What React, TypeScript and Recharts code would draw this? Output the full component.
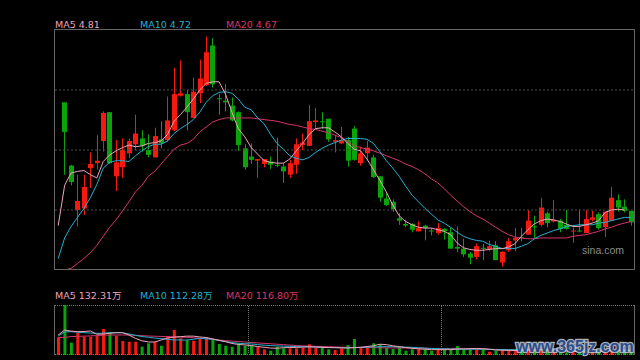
import { ComposedChart, Bar, Line, XAxis, YAxis, ReferenceLine, Cell } from "recharts";

// slot 0 is the day before the first drawn candle (only its volume and MA start are visible)
const open = [null,
  6.12, 5.35, 4.81, 4.83, 5.32, 5.38, 5.65, 6.00, 5.22, 5.33,
  5.50, 5.61, 5.68, 5.54, 5.45, 5.67, 5.66, 5.78, 6.20, 6.22,
  5.93, 6.23, 6.33, 6.81, 6.17, 6.14, 6.08, 6.00, 5.56, 5.46,
  5.41, 5.37, 5.40, 5.36, 5.34, 5.24, 5.36, 5.60, 5.59, 5.88,
  5.89, 5.92, 5.64, 5.62, 5.66, 5.80, 5.38, 5.50, 5.45, 5.22,
  4.95, 4.91, 4.71, 4.64, 4.64, 4.55, 4.62, 4.56, 4.53, 4.58,
  4.54, 4.36, 4.34, 4.28, 4.24, 4.35, 4.33, 4.38, 4.17, 4.32,
  4.44, 4.48, 4.51, 4.61, 4.63, 4.77, 4.67, 4.68, 4.63, 4.55,
  4.56, 4.53, 4.69, 4.76, 4.60, 4.68, 4.93, 4.85, 4.80];
const close = [null,
  5.76, 5.15, 4.92, 5.09, 5.37, 5.41, 5.99, 5.38, 5.39, 5.54,
  5.65, 5.74, 5.59, 5.48, 5.71, 5.62, 5.90, 6.22, 6.23, 6.00,
  6.25, 6.41, 6.73, 6.34, 6.16, 6.12, 5.90, 5.60, 5.33, 5.42,
  5.43, 5.43, 5.36, 5.35, 5.28, 5.38, 5.61, 5.63, 5.89, 5.90,
  5.88, 5.67, 5.66, 5.66, 5.41, 5.42, 5.50, 5.57, 5.21, 4.96,
  4.87, 4.82, 4.68, 4.62, 4.57, 4.59, 4.59, 4.55, 4.59, 4.55,
  4.34, 4.34, 4.27, 4.23, 4.37, 4.34, 4.37, 4.20, 4.30, 4.43,
  4.47, 4.47, 4.68, 4.60, 4.84, 4.65, 4.69, 4.58, 4.58, 4.56,
  4.55, 4.70, 4.72, 4.59, 4.79, 4.96, 4.84, 4.80, 4.66];
const high = [null,
  6.12, 5.36, 5.24, 5.24, 5.51, 5.72, 6.01, 6.00, 5.66, 5.68,
  5.68, 5.97, 5.78, 5.73, 5.81, 5.89, 6.19, 6.54, 6.63, 6.27,
  6.42, 6.64, 6.92, 6.90, 6.22, 6.34, 6.18, 6.01, 5.61, 5.62,
  5.43, 5.43, 5.46, 5.69, 5.38, 5.42, 5.68, 5.74, 6.09, 6.05,
  6.00, 5.92, 5.72, 5.82, 5.70, 5.83, 5.58, 5.65, 5.48, 5.22,
  5.03, 4.94, 4.77, 4.69, 4.65, 4.67, 4.63, 4.59, 4.65, 4.59,
  4.60, 4.61, 4.46, 4.30, 4.40, 4.40, 4.44, 4.43, 4.31, 4.47,
  4.59, 4.59, 4.81, 4.74, 4.96, 4.79, 4.93, 4.70, 4.81, 4.60,
  4.81, 4.81, 4.80, 4.78, 4.79, 5.09, 5.00, 4.94, 4.80];
const low = [null,
  5.24, 5.11, 4.61, 4.75, 5.08, 5.30, 5.52, 5.37, 5.04, 5.20,
  5.44, 5.54, 5.52, 5.45, 5.45, 5.56, 5.64, 5.77, 6.19, 5.78,
  5.93, 6.11, 6.32, 6.30, 5.97, 6.01, 5.89, 5.53, 5.30, 5.37,
  5.20, 5.33, 5.31, 5.33, 5.14, 5.20, 5.25, 5.54, 5.59, 5.80,
  5.80, 5.64, 5.51, 5.61, 5.34, 5.41, 5.35, 5.41, 5.20, 4.91,
  4.86, 4.79, 4.63, 4.60, 4.54, 4.55, 4.44, 4.50, 4.51, 4.45,
  4.34, 4.30, 4.24, 4.15, 4.21, 4.20, 4.31, 4.20, 4.12, 4.30,
  4.31, 4.43, 4.51, 4.47, 4.61, 4.60, 4.66, 4.54, 4.57, 4.41,
  4.54, 4.53, 4.67, 4.57, 4.48, 4.68, 4.79, 4.78, 4.62];

const ma5 = [
  4.62, 5.11, 5.26, 5.28, 5.29, 5.24, 5.20, 5.40, 5.48, 5.53,
  5.57, 5.60, 5.58, 5.59, 5.62, 5.63, 5.65, 5.73, 5.89, 5.97,
  6.06, 6.16, 6.27, 6.35, 6.37, 6.37, 6.22, 6.00, 5.80, 5.70,
  5.57, 5.49, 5.41, 5.39, 5.38, 5.38, 5.43, 5.53, 5.62, 5.73,
  5.80, 5.81, 5.81, 5.76, 5.70, 5.62, 5.55, 5.53, 5.43, 5.30,
  5.17, 5.03, 4.87, 4.74, 4.67, 4.63, 4.60, 4.59, 4.59, 4.57,
  4.55, 4.51, 4.41, 4.35, 4.33, 4.32, 4.32, 4.33, 4.34, 4.34,
  4.36, 4.40, 4.49, 4.57, 4.64, 4.68, 4.70, 4.69, 4.67, 4.64,
  4.61, 4.61, 4.63, 4.65, 4.68, 4.78, 4.81, 4.82, 4.81];
const ma10 = [
  4.22, 4.47, 4.61, 4.72, 4.83, 4.96, 5.12, 5.32, 5.39, 5.41,
  5.41, 5.40, 5.47, 5.53, 5.58, 5.61, 5.61, 5.65, 5.74, 5.80,
  5.85, 5.91, 6.00, 6.12, 6.20, 6.24, 6.25, 6.23, 6.16, 6.06,
  6.03, 5.93, 5.86, 5.73, 5.62, 5.55, 5.47, 5.44, 5.42, 5.45,
  5.51, 5.56, 5.60, 5.63, 5.66, 5.68, 5.68, 5.68, 5.67, 5.62,
  5.52, 5.41, 5.32, 5.22, 5.10, 4.99, 4.91, 4.83, 4.76, 4.69,
  4.65, 4.60, 4.54, 4.49, 4.46, 4.44, 4.43, 4.39, 4.37, 4.34,
  4.34, 4.34, 4.37, 4.40, 4.46, 4.50, 4.53, 4.56, 4.58, 4.61,
  4.62, 4.63, 4.63, 4.63, 4.65, 4.66, 4.68, 4.70, 4.72, 4.72];
const ma20 = [
  4.08, 4.08, 4.10, 4.16, 4.22, 4.29, 4.38, 4.49, 4.60, 4.69,
  4.80, 4.91, 5.03, 5.11, 5.22, 5.28, 5.37, 5.46, 5.55, 5.60,
  5.62, 5.67, 5.76, 5.82, 5.88, 5.91, 5.93, 5.93, 5.93, 5.93,
  5.93, 5.92, 5.91, 5.90, 5.89, 5.87, 5.85, 5.84, 5.82, 5.80,
  5.79, 5.77, 5.75, 5.72, 5.69, 5.64, 5.59, 5.57, 5.55, 5.53,
  5.50, 5.47, 5.44, 5.41, 5.37, 5.34, 5.30, 5.25, 5.19, 5.14,
  5.07, 4.99, 4.92, 4.85, 4.79, 4.74, 4.70, 4.65, 4.60, 4.55,
  4.51, 4.48, 4.47, 4.46, 4.46, 4.47, 4.47, 4.47, 4.47, 4.47,
  4.49, 4.50, 4.51, 4.53, 4.55, 4.58, 4.60, 4.63, 4.65, 4.67];

// volume in 万
const vol = [
  460, 1300, 320, 580, 476, 476, 494, 676, 590, 502,
  364, 346, 346, 216, 304, 346, 242, 494, 650, 434,
  390, 372, 434, 460, 408, 286, 242, 216, 304, 242,
  260, 216, 148, 112, 216, 174, 174, 174, 190, 278,
  190, 190, 148, 130, 169, 260, 416, 190, 190, 304,
  278, 190, 156, 216, 112, 148, 156, 148, 112, 148,
  148, 138, 234, 156, 156, 156, 156, 86, 112, 130,
  130, 130, 110, 190, 130, 150, 110, 100, 90, 73,
  90, 85, 110, 80, 96, 140, 160, 130, 110, 122];
const vma5 = [
  520, 650, 620, 607, 610, 625, 540, 545, 565, 580,
  580, 520, 433, 370, 340, 338, 390, 440, 465, 477,
  490, 490, 470, 455, 420, 380, 347, 300, 275, 262,
  245, 220, 200, 180, 175, 190, 195, 199, 205, 215,
  210, 200, 192, 190, 185, 182, 190, 200, 220, 240,
  280, 270, 240, 215, 195, 175, 160, 150, 140, 140,
  140, 140, 155, 160, 165, 170, 165, 150, 130, 125,
  120, 118, 120, 135, 140, 145, 140, 130, 115, 100,
  93, 90, 93, 90, 92, 103, 115, 120, 128, 132];
const vma10 = [
  494, 600, 607, 595, 580, 570, 563, 570, 580, 580,
  580, 546, 510, 480, 462, 440, 425, 410, 392, 390,
  390, 410, 433, 420, 410, 380, 350, 325, 305, 295,
  288, 270, 255, 245, 236, 230, 225, 220, 215, 210,
  205, 199, 196, 193, 191, 190, 195, 200, 205, 210,
  215, 218, 215, 210, 205, 200, 190, 180, 170, 165,
  160, 155, 152, 150, 150, 150, 150, 148, 145, 142,
  140, 140, 138, 135, 130, 128, 125, 125, 122, 120,
  120, 118, 116, 114, 112, 110, 110, 111, 112, 112];
const vma20 = [
  450, 460, 478, 485, 490, 497, 505, 512, 520, 520,
  520, 520, 512, 503, 494, 488, 482, 477, 471, 465,
  459, 448, 437, 425, 408, 390, 373, 362, 350, 338,
  326, 315, 303, 292, 280, 269, 258, 246, 238, 232,
  226, 220, 217, 210, 203, 199, 196, 194, 192, 190,
  188, 186, 184, 182, 180, 178, 176, 174, 172, 170,
  168, 165, 162, 160, 157, 154, 150, 146, 142, 138,
  135, 132, 130, 128, 126, 125, 124, 123, 122, 121,
  120, 120, 119, 119, 118, 118, 117, 117, 117, 117];

const priceDomain = [4.08, 7.0];
const priceGrid = [4.81, 5.54, 6.27];
const volDomain = [0, 1300];

const RED = "#f5190f";
const GREEN = "#0aa30a";
const C5 = "#eea5ba";
const C10 = "#26afcc";
const C20 = "#d8356d";
const FRAME = "#646464";
const DOTS = "#7a7a7a";

const data = vol.map((v, i) => ({
  idx: i,
  open: open[i], close: close[i], high: high[i], low: low[i],
  ma5: ma5[i], ma10: ma10[i], ma20: ma20[i],
  vol: v, vma5: vma5[i], vma10: vma10[i], vma20: vma20[i],
}));

const isUp = (d: any) => d.close == null || d.close >= d.open;

function Candle(props: any) {
  const { x, y, width, height, payload } = props;
  if (payload.high == null) return null;
  const top = Math.min(y, y + height);
  const h = Math.abs(height);
  const span = payload.high - payload.low || 1;
  const py = (v: number) => top + ((payload.high - v) / span) * h;
  const color = isUp(payload) ? RED : GREEN;
  const bTop = py(Math.max(payload.open, payload.close));
  const bBot = py(Math.min(payload.open, payload.close));
  const cx = Math.floor(x + width / 2) + 0.5;
  return (
    <g>
      <line x1={cx} x2={cx} y1={top} y2={top + h} stroke={color} strokeWidth={1} />
      <rect x={cx - 2.5} y={bTop} width={5} height={Math.max(1, bBot - bTop)} fill={color} />
    </g>
  );
}

const font = "'DejaVu Sans', 'Noto Sans CJK SC', sans-serif";

export default function App() {
  return (
    <div style={{ position: "absolute", left: 0, top: 0, width: 640, height: 360, background: "#000", overflow: "hidden" }}>
      <div style={{ position: "absolute", left: 0, top: 0 }}>
        <ComposedChart width={640} height={280} data={data} margin={{ top: 30, right: 6, bottom: 10, left: 55 }}>
          <XAxis dataKey="idx" hide />
          <YAxis hide domain={priceDomain} allowDataOverflow />
          {priceGrid.map((p) => (
            <ReferenceLine key={p} y={p} stroke="#4a4a4a" strokeDasharray="2 2" />
          ))}
          <Bar dataKey={(d: any) => (d.high == null ? null : [d.low, d.high])} barSize={5} shape={<Candle />} isAnimationActive={false} />
          <Line dataKey="ma20" stroke={C20} strokeWidth={1} dot={false} type="linear" isAnimationActive={false} />
          <Line dataKey="ma10" stroke={C10} strokeWidth={1} dot={false} type="linear" isAnimationActive={false} />
          <Line dataKey="ma5" stroke={C5} strokeWidth={1} dot={false} type="linear" isAnimationActive={false} />
        </ComposedChart>
      </div>
      <div style={{ position: "absolute", left: 0, top: 280 }}>
        <ComposedChart width={640} height={80} data={data} margin={{ top: 25, right: 6, bottom: 5, left: 55 }}>
          <XAxis dataKey="idx" hide />
          <YAxis hide domain={volDomain} allowDataOverflow />
          <Bar dataKey="vol" barSize={3} isAnimationActive={false}>
            {data.map((d) => (
              <Cell key={d.idx} fill={isUp(d) ? RED : GREEN} />
            ))}
          </Bar>
          <Line dataKey="vma20" stroke={C20} strokeWidth={1} dot={false} type="linear" isAnimationActive={false} />
          <Line dataKey="vma10" stroke={C10} strokeWidth={1} dot={false} type="linear" isAnimationActive={false} />
          <Line dataKey="vma5" stroke={C5} strokeWidth={1} dot={false} type="linear" isAnimationActive={false} />
        </ComposedChart>
      </div>
      <svg width={640} height={360} style={{ position: "absolute", left: 0, top: 0, pointerEvents: "none" }}>
        {/* panel frames */}
        <rect x={54.5} y={29.5} width={580} height={240} fill="none" stroke={FRAME} />
        <line x1={54.5} x2={54.5} y1={305} y2={355} stroke={FRAME} />
        <line x1={634.5} x2={634.5} y1={305} y2={355} stroke={FRAME} />
        <line x1={55} x2={634} y1={305.5} y2={305.5} stroke={DOTS} strokeDasharray="1 1" />
        <line x1={55} x2={634} y1={354.5} y2={354.5} stroke={DOTS} strokeDasharray="1 1" />
        <line x1={248.5} x2={248.5} y1={306} y2={354} stroke={DOTS} strokeDasharray="1 1" />
        <line x1={441.5} x2={441.5} y1={306} y2={354} stroke={DOTS} strokeDasharray="1 1" />
        <g fontFamily={font} fontSize={9.5}>
          <text x={55} y={27.5} fill={C5}>MA5 4.81</text>
          <text x={140} y={27.5} fill={C10}>MA10 4.72</text>
          <text x={226} y={27.5} fill={C20}>MA20 4.67</text>
          <text x={55} y={299} fill={C5}>MA5 132.31万</text>
          <text x={140} y={299} fill={C10}>MA10 112.28万</text>
          <text x={226} y={299} fill={C20}>MA20 116.80万</text>
        </g>
        <text x={582} y={253.5} fill="#8c8c8c" fontFamily="'Liberation Sans', Arial, sans-serif" fontSize={10.5}>sina.com</text>
        <text x={516} y={352} fill="#2a4c8c" stroke="rgba(200,206,216,0.85)" strokeWidth={2.5} paintOrder="stroke" fontFamily="'Liberation Sans', Arial, sans-serif" fontWeight="bold" fontSize={16}>www.365jz.com</text>
      </svg>
    </div>
  );
}
